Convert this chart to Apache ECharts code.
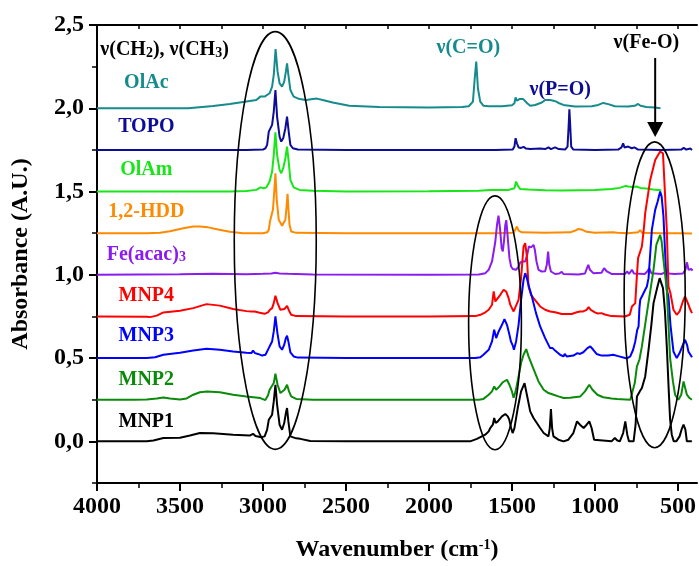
<!DOCTYPE html>
<html><head><meta charset="utf-8">
<script src="https://cdn.jsdelivr.net/npm/echarts@6/dist/echarts.min.js"></script>
<style>html,body{margin:0;padding:0;background:#fff}#c{width:699px;height:566px}</style>
</head><body><div id="c"></div>
<script>
const FONT = '"Liberation Serif","Times New Roman",serif';

// ---- data ----
const seriesNames = ['OlAc','TOPO','OlAm','1,2-HDD','Fe(acac)3','MNP4','MNP3','MNP2','MNP1'];
const xMajorTicks = [4000,3500,3000,2500,2000,1500,1000,500];
const xMinorTicks = [3750,3250,2750,2250,1750,1250,750];
const xTopTicks = [4000,3750,3500,3250,3000,2750,2500,2250,2000,1750,1500,1250,1000,750,500];
const yMajorTicks = [0,0.5,1,1.5,2,2.5];
const yMinorTicks = [-0.25,0.25,0.75,1.25,1.75,2.25];

const OlAc = [[4000,2.0],[3700,2.0],[3450,2.0],[3300,2.014],[3200,2.025],[3100,2.04],[3040,2.05],[3016,2.07],[3005,2.065],[2990,2.07],[2960,2.09],[2945,2.13],[2935,2.2],[2924,2.355],[2912,2.22],[2900,2.15],[2885,2.13],[2872,2.16],[2862,2.22],[2855,2.27],[2847,2.2],[2835,2.11],[2815,2.07],[2780,2.055],[2740,2.05],[2700,2.055],[2675,2.058],[2640,2.05],[2580,2.035],[2480,2.015],[2300,2.008],[2000,2.005],[1800,2.008],[1760,2.012],[1735,2.04],[1725,2.17],[1715,2.28],[1705,2.12],[1691,2.04],[1671,2.015],[1640,2.012],[1560,2.012],[1500,2.018],[1485,2.03],[1478,2.065],[1470,2.045],[1462,2.05],[1455,2.055],[1445,2.05],[1432,2.055],[1420,2.06],[1408,2.03],[1390,2.015],[1360,2.02],[1320,2.035],[1300,2.05],[1289,2.055],[1270,2.05],[1250,2.045],[1232,2.04],[1215,2.03],[1190,2.02],[1120,2.01],[1020,2.012],[980,2.02],[950,2.032],[938,2.036],[920,2.025],[880,2.012],[800,2.01],[760,2.015],[740,2.026],[725,2.015],[690,2.008],[640,2.004],[605,2.0]];

const TOPO = [[4000,1.75],[3500,1.75],[3100,1.75],[3000,1.752],[2985,1.76],[2975,1.78],[2965,1.86],[2958,1.85],[2945,1.9],[2935,1.98],[2925,2.11],[2915,1.95],[2900,1.83],[2890,1.80],[2878,1.82],[2865,1.88],[2855,1.95],[2845,1.86],[2835,1.78],[2820,1.76],[2790,1.752],[2500,1.75],[1600,1.75],[1495,1.752],[1485,1.77],[1478,1.82],[1470,1.79],[1460,1.765],[1445,1.762],[1430,1.768],[1415,1.758],[1390,1.755],[1330,1.758],[1300,1.755],[1280,1.765],[1265,1.755],[1240,1.765],[1228,1.772],[1218,1.755],[1180,1.752],[1165,1.77],[1158,1.9],[1154,1.994],[1149,1.9],[1143,1.77],[1130,1.752],[1000,1.75],[860,1.752],[840,1.765],[830,1.79],[822,1.765],[810,1.775],[800,1.77],[790,1.778],[778,1.76],[762,1.765],[740,1.752],[600,1.75],[480,1.752],[465,1.762],[450,1.752],[425,1.758],[415,1.75]];

const OlAm = [[4000,1.5],[3500,1.5],[3200,1.5],[3100,1.503],[3040,1.51],[3015,1.525],[3005,1.53],[2995,1.52],[2980,1.525],[2960,1.56],[2945,1.62],[2935,1.72],[2925,1.855],[2915,1.72],[2900,1.63],[2890,1.61],[2878,1.64],[2865,1.70],[2855,1.77],[2845,1.68],[2835,1.57],[2815,1.525],[2780,1.51],[2700,1.505],[2500,1.5],[2000,1.502],[1700,1.505],[1630,1.51],[1520,1.51],[1485,1.52],[1475,1.56],[1465,1.535],[1450,1.515],[1400,1.512],[1300,1.508],[1200,1.506],[1100,1.508],[1000,1.51],[900,1.515],[850,1.522],[815,1.534],[800,1.53],[775,1.528],[750,1.53],[727,1.522],[690,1.518],[650,1.512],[620,1.51],[600,1.508]];

const HDD = [[4000,1.25],[3700,1.25],[3620,1.252],[3560,1.262],[3480,1.28],[3420,1.29],[3380,1.29],[3330,1.285],[3270,1.272],[3200,1.258],[3120,1.25],[3000,1.25],[2975,1.255],[2965,1.27],[2958,1.32],[2950,1.33],[2940,1.39],[2932,1.5],[2925,1.61],[2917,1.45],[2905,1.33],[2885,1.295],[2876,1.29],[2865,1.33],[2857,1.42],[2852,1.486],[2847,1.40],[2840,1.3],[2830,1.26],[2800,1.252],[2500,1.25],[1600,1.25],[1490,1.252],[1480,1.27],[1470,1.29],[1460,1.265],[1440,1.255],[1300,1.252],[1150,1.255],[1120,1.265],[1100,1.275],[1090,1.28],[1075,1.27],[1050,1.258],[1000,1.252],[890,1.255],[878,1.262],[865,1.253],[800,1.25],[740,1.255],[728,1.268],[715,1.252],[600,1.25],[500,1.25],[415,1.248]];

const FeAcac = [[4000,1.0],[3500,1.003],[3300,1.006],[3100,1.004],[3000,1.006],[2950,1.008],[2925,1.012],[2900,1.008],[2850,1.006],[2700,1.002],[2000,1.0],[1700,1.002],[1660,1.01],[1640,1.03],[1620,1.08],[1600,1.2],[1590,1.3],[1581,1.355],[1572,1.28],[1562,1.16],[1555,1.14],[1548,1.2],[1540,1.3],[1534,1.328],[1525,1.22],[1515,1.1],[1505,1.05],[1495,1.035],[1475,1.03],[1460,1.05],[1450,1.075],[1435,1.08],[1420,1.08],[1408,1.12],[1398,1.17],[1392,1.18],[1385,1.165],[1378,1.17],[1370,1.18],[1362,1.15],[1352,1.08],[1340,1.03],[1320,1.02],[1300,1.022],[1290,1.06],[1282,1.14],[1275,1.06],[1265,1.02],[1240,1.005],[1215,1.008],[1200,1.018],[1190,1.005],[1100,1.002],[1060,1.008],[1048,1.04],[1040,1.06],[1030,1.03],[1010,1.01],[960,1.012],[945,1.04],[938,1.05],[928,1.02],[900,1.005],[820,1.005],[805,1.02],[795,1.005],[785,1.012],[777,1.03],[765,1.008],[700,1.005],[685,1.02],[673,1.04],[660,1.01],[600,1.005],[575,1.015],[567,1.03],[555,1.008],[520,1.005],[470,1.008],[455,1.03],[445,1.075],[436,1.03],[428,1.02],[420,1.035],[412,1.025]];

const MNP4 = [[4000,0.75],[3700,0.748],[3680,0.746],[3640,0.755],[3600,0.774],[3500,0.784],[3420,0.80],[3340,0.824],[3260,0.815],[3180,0.795],[3100,0.782],[3070,0.78],[3060,0.792],[3050,0.78],[3020,0.772],[2990,0.766],[2970,0.775],[2958,0.79],[2945,0.80],[2935,0.83],[2925,0.874],[2912,0.83],[2895,0.79],[2885,0.78],[2870,0.795],[2855,0.814],[2843,0.785],[2830,0.76],[2800,0.752],[2500,0.75],[2000,0.75],[1720,0.752],[1690,0.76],[1660,0.775],[1640,0.79],[1620,0.82],[1610,0.90],[1600,0.84],[1590,0.85],[1570,0.88],[1550,0.91],[1535,0.90],[1520,0.86],[1510,0.82],[1500,0.80],[1490,0.78],[1480,0.79],[1460,0.85],[1445,0.98],[1430,1.17],[1420,1.19],[1410,1.11],[1400,0.93],[1385,0.88],[1370,0.86],[1330,0.81],[1300,0.79],[1270,0.78],[1240,0.775],[1200,0.765],[1190,0.775],[1180,0.765],[1140,0.765],[1110,0.775],[1090,0.78],[1070,0.78],[1050,0.79],[1038,0.806],[1025,0.79],[1000,0.775],[985,0.768],[960,0.77],[940,0.762],[900,0.752],[820,0.75],[790,0.76],[777,0.81],[757,0.83],[750,0.95],[740,1.1],[727,1.14],[717,1.17],[705,1.28],[697,1.37],[667,1.57],[637,1.69],[607,1.74],[590,1.73],[567,1.27],[557,0.93],[545,0.89],[527,0.79],[507,0.76],[490,0.78],[470,0.84],[457,0.87],[440,0.83],[425,0.79],[415,0.77]];

const MNP3 = [[4000,0.5],[3700,0.5],[3650,0.505],[3600,0.52],[3500,0.532],[3420,0.545],[3340,0.556],[3260,0.55],[3180,0.54],[3100,0.532],[3070,0.53],[3060,0.545],[3048,0.53],[3030,0.525],[3005,0.515],[2985,0.52],[2965,0.56],[2955,0.58],[2945,0.6],[2935,0.66],[2925,0.75],[2913,0.65],[2900,0.57],[2885,0.55],[2872,0.58],[2862,0.62],[2855,0.634],[2847,0.6],[2835,0.535],[2815,0.51],[2790,0.503],[2500,0.5],[2000,0.5],[1720,0.5],[1690,0.505],[1672,0.52],[1640,0.55],[1620,0.6],[1607,0.67],[1595,0.62],[1580,0.66],[1560,0.70],[1545,0.734],[1530,0.70],[1515,0.64],[1506,0.60],[1495,0.575],[1488,0.55],[1475,0.6],[1460,0.70],[1445,0.85],[1430,0.97],[1420,1.01],[1410,0.98],[1395,0.92],[1380,0.87],[1355,0.77],[1330,0.69],[1300,0.62],[1270,0.56],[1255,0.56],[1240,0.545],[1210,0.52],[1190,0.51],[1182,0.525],[1170,0.51],[1130,0.515],[1105,0.53],[1090,0.525],[1070,0.535],[1045,0.56],[1028,0.57],[1010,0.55],[990,0.525],[960,0.515],[920,0.515],[890,0.52],[860,0.512],[807,0.498],[787,0.51],[770,0.55],[757,0.6],[745,0.67],[737,0.69],[732,0.80],[727,0.85],[717,0.87],[697,0.91],[687,0.93],[677,0.98],[657,1.27],[637,1.39],[622,1.44],[607,1.50],[598,1.47],[587,1.35],[567,0.91],[557,0.87],[545,0.7],[527,0.54],[507,0.50],[490,0.53],[470,0.58],[457,0.61],[445,0.58],[437,0.54],[425,0.53],[415,0.505]];

const MNP2 = [[4000,0.25],[3780,0.25],[3700,0.252],[3640,0.258],[3600,0.264],[3560,0.258],[3500,0.252],[3460,0.258],[3420,0.28],[3380,0.295],[3337,0.30],[3260,0.295],[3180,0.28],[3100,0.27],[3016,0.26],[2986,0.248],[2970,0.275],[2960,0.31],[2948,0.30],[2935,0.35],[2925,0.406],[2912,0.34],[2895,0.29],[2885,0.28],[2870,0.31],[2855,0.34],[2843,0.30],[2830,0.27],[2800,0.255],[2700,0.25],[2000,0.25],[1700,0.25],[1672,0.255],[1640,0.28],[1620,0.30],[1607,0.33],[1595,0.31],[1575,0.33],[1555,0.355],[1530,0.37],[1515,0.34],[1500,0.3],[1490,0.262],[1478,0.3],[1460,0.39],[1445,0.47],[1430,0.52],[1414,0.554],[1400,0.51],[1372,0.44],[1340,0.36],[1309,0.31],[1280,0.29],[1249,0.28],[1220,0.27],[1189,0.26],[1150,0.262],[1088,0.27],[1060,0.30],[1034,0.34],[1015,0.31],[985,0.28],[950,0.265],[900,0.258],[867,0.255],[787,0.25],[777,0.25],[760,0.35],[747,0.45],[732,0.49],[717,0.57],[687,0.77],[667,0.9],[647,1.03],[630,1.18],[615,1.22],[607,1.24],[598,1.2],[587,1.09],[567,0.91],[547,0.50],[530,0.36],[517,0.28],[497,0.25],[480,0.28],[466,0.36],[457,0.35],[446,0.28],[430,0.26],[416,0.25]];

const MNP1 = [[4000,0.0],[3700,0.0],[3660,0.005],[3600,0.02],[3500,0.022],[3440,0.035],[3380,0.05],[3300,0.048],[3180,0.04],[3080,0.035],[3060,0.045],[3045,0.032],[3010,0.025],[2990,0.03],[2975,0.07],[2965,0.13],[2955,0.135],[2945,0.16],[2935,0.24],[2925,0.34],[2915,0.22],[2900,0.1],[2885,0.07],[2872,0.11],[2862,0.17],[2855,0.20],[2847,0.12],[2835,0.03],[2800,0.018],[2775,0.015],[2715,0.002],[2500,0.0],[2000,0.0],[1752,0.0],[1711,0.015],[1661,0.04],[1640,0.06],[1631,0.08],[1615,0.1],[1607,0.14],[1598,0.11],[1585,0.12],[1560,0.15],[1540,0.164],[1525,0.15],[1516,0.13],[1505,0.08],[1496,0.05],[1485,0.08],[1465,0.2],[1445,0.3],[1424,0.35],[1410,0.28],[1390,0.18],[1370,0.14],[1350,0.11],[1330,0.08],[1309,0.05],[1280,0.03],[1272,0.08],[1265,0.194],[1258,0.08],[1250,0.03],[1220,0.01],[1189,0.0],[1160,0.01],[1130,0.05],[1108,0.12],[1090,0.1],[1068,0.08],[1050,0.1],[1034,0.12],[1020,0.08],[1005,0.01],[998,0.0],[900,0.0],[880,0.02],[865,0.005],[850,0.0],[830,0.05],[817,0.12],[805,0.04],[795,0.0],[767,0.0],[755,0.1],[747,0.27],[730,0.3],[717,0.32],[697,0.39],[677,0.55],[660,0.7],[647,0.83],[623,0.93],[610,0.98],[601,0.99],[590,0.92],[578,0.78],[567,0.57],[555,0.3],[547,0.13],[537,0.04],[525,0.0],[510,0.0],[490,0.03],[475,0.08],[466,0.10],[455,0.07],[446,0.0],[430,0.0],[416,0.0]];

const seriesData = [OlAc, TOPO, OlAm, HDD, FeAcac, MNP4, MNP3, MNP2, MNP1];

// ---- styling / layout ----
const colors = ['#168b8b','#0c0c96','#17e617','#ff8a00','#8a1cf0','#ff0000','#0000ff','#0a8a0a','#000000'];
const labelText = ['OlAc','TOPO','OlAm','1,2-HDD','Fe(acac){s|3}','MNP4','MNP3','MNP2','MNP1'];
const labelPos = [[3703,2.152],[3703,1.888],[3703,1.63],[3703,1.378],[3703,1.12],[3703,0.874],[3703,0.634],[3703,0.37],[3703,0.118]];
const notes = [
  {text:'ν(CH{s|2}), ν(CH{s|3})', pos:[3980,2.35], align:'left', color:'#000'},
  {text:'ν(C=O)', pos:[1763,2.36], align:'center', color:'#168b8b'},
  {text:'ν(P=O)', pos:[1209,2.11], align:'center', color:'#0c0c96'},
  {text:'ν(Fe-O)', pos:[690,2.392], align:'center', color:'#000'}
];
const ellipses = [[2926,1.206,247,1.254],[1602,0.712,159,0.762],[640,0.88,184,0.918]];
const arrow = {x:637, y1:2.302, y2:1.828};

const chart = echarts.init(document.getElementById('c'), null, {renderer:'canvas'});
const XMIN = 385, XMAX = 4000, YMIN = -0.25, YMAX = 2.5;
const fmtY = v => v.toFixed(1).replace('.', ',');
const fmtX = v => String(Math.round(v));
const baseX = {type:'value', min:XMIN, max:XMAX, inverse:true, splitLine:{show:false}};
const baseY = {type:'value', min:YMIN, max:YMAX, splitLine:{show:false}};

const option = {
  animation:false,
  backgroundColor:'#fff',
  grid:{left:97, top:25, right:2, bottom:83, containLabel:false, outerBoundsMode:'none'},
  xAxis:[
    Object.assign({}, baseX, {position:'bottom',
      axisLine:{show:true, onZero:false, lineStyle:{color:'#000', width:2}},
      axisTick:{show:true, inside:false, length:8, customValues:xMajorTicks, lineStyle:{color:'#000', width:2}},
      axisLabel:{show:true, customValues:xMajorTicks, formatter:fmtX, margin:12, color:'#000', fontFamily:FONT, fontWeight:'bold', fontSize:24},
      name:'Wavenumber (cm{sup|-1})', nameLocation:'middle', nameGap:55,
      nameTextStyle:{color:'#000', fontFamily:FONT, fontWeight:'bold', fontSize:24,
        rich:{sup:{fontFamily:FONT, fontWeight:'bold', fontSize:14, lineHeight:8, verticalAlign:'top', color:'#000'}}}
    }),
    Object.assign({}, baseX, {position:'bottom',
      axisLine:{show:false, onZero:false},
      axisTick:{show:true, inside:false, length:5, customValues:xMinorTicks, lineStyle:{color:'#000', width:1.5}},
      axisLabel:{show:false}
    }),
    Object.assign({}, baseX, {position:'top',
      axisLine:{show:true, onZero:false, lineStyle:{color:'#000', width:2}},
      axisTick:{show:true, inside:true, length:4, customValues:xTopTicks, lineStyle:{color:'#000', width:1.5}},
      axisLabel:{show:false}
    })
  ],
  yAxis:[
    Object.assign({}, baseY, {position:'left',
      axisLine:{show:true, onZero:false, lineStyle:{color:'#000', width:2}},
      axisTick:{show:true, inside:false, length:8, customValues:yMajorTicks, lineStyle:{color:'#000', width:2}},
      axisLabel:{show:true, customValues:yMajorTicks, formatter:fmtY, margin:13, color:'#000', fontFamily:FONT, fontWeight:'bold', fontSize:24},
      name:'Absorbance (A.U.)', nameLocation:'middle', nameGap:64, nameRotate:90,
      nameTextStyle:{color:'#000', fontFamily:FONT, fontWeight:'bold', fontSize:24}
    }),
    Object.assign({}, baseY, {position:'left',
      axisLine:{show:false, onZero:false},
      axisTick:{show:true, inside:false, length:5, customValues:yMinorTicks, lineStyle:{color:'#000', width:1.5}},
      axisLabel:{show:false}
    })
  ],
  series: seriesData.map((d, i) => ({
    name: seriesNames[i], type:'line', data:d, xAxisIndex:0, yAxisIndex:0,
    showSymbol:false, symbol:'none', smooth:false, clip:true,
    lineStyle:{color:colors[i], width:2}, itemStyle:{color:colors[i]}, z:2+i
  }))
};
chart.setOption(option);

function px(p){ return chart.convertToPixel({xAxisIndex:0, yAxisIndex:0}, p); }
const richFor = c => ({
  m:{fontFamily:FONT, fontWeight:'bold', fontSize:20, lineHeight:20, verticalAlign:'middle', fill:c},
  s:{fontFamily:FONT, fontWeight:'bold', fontSize:14, lineHeight:14, padding:[12,0,0,0], verticalAlign:'bottom', fill:c}
});
const g = [];
labelPos.forEach((p, i) => {
  const q = px(p);
  g.push({type:'text', z:50, style:{text:labelText[i], x:q[0], y:q[1], align:'center', verticalAlign:'middle',
    fontFamily:FONT, fontWeight:'bold', fontSize:20, fill:colors[i], rich:richFor(colors[i])}});
});
notes.forEach(n => {
  const q = px(n.pos);
  g.push({type:'text', z:50, style:{text:n.text, x:q[0], y:q[1], align:n.align, verticalAlign:'middle',
    fontFamily:FONT, fontWeight:'bold', fontSize:20, fill:n.color, rich:richFor(n.color)}});
});
ellipses.forEach(e => {
  const c = px([e[0], e[1]]);
  const r = px([e[0] - e[2], e[1] + e[3]]);
  g.push({type:'ellipse', z:60, shape:{cx:c[0], cy:c[1], rx:Math.abs(r[0]-c[0]), ry:Math.abs(c[1]-r[1])},
    style:{fill:null, stroke:'#000', lineWidth:1.6}});
});
{
  const a = px([arrow.x, arrow.y1]), b = px([arrow.x, arrow.y2]);
  g.push({type:'line', z:60, shape:{x1:a[0], y1:a[1], x2:b[0], y2:b[1]-12}, style:{stroke:'#000', lineWidth:2}});
  g.push({type:'polygon', z:60, shape:{points:[[b[0]-8, b[1]-15],[b[0]+8, b[1]-15],[b[0], b[1]]]}, style:{fill:'#000'}});
}
chart.setOption({graphic:g});
</script></body></html>
